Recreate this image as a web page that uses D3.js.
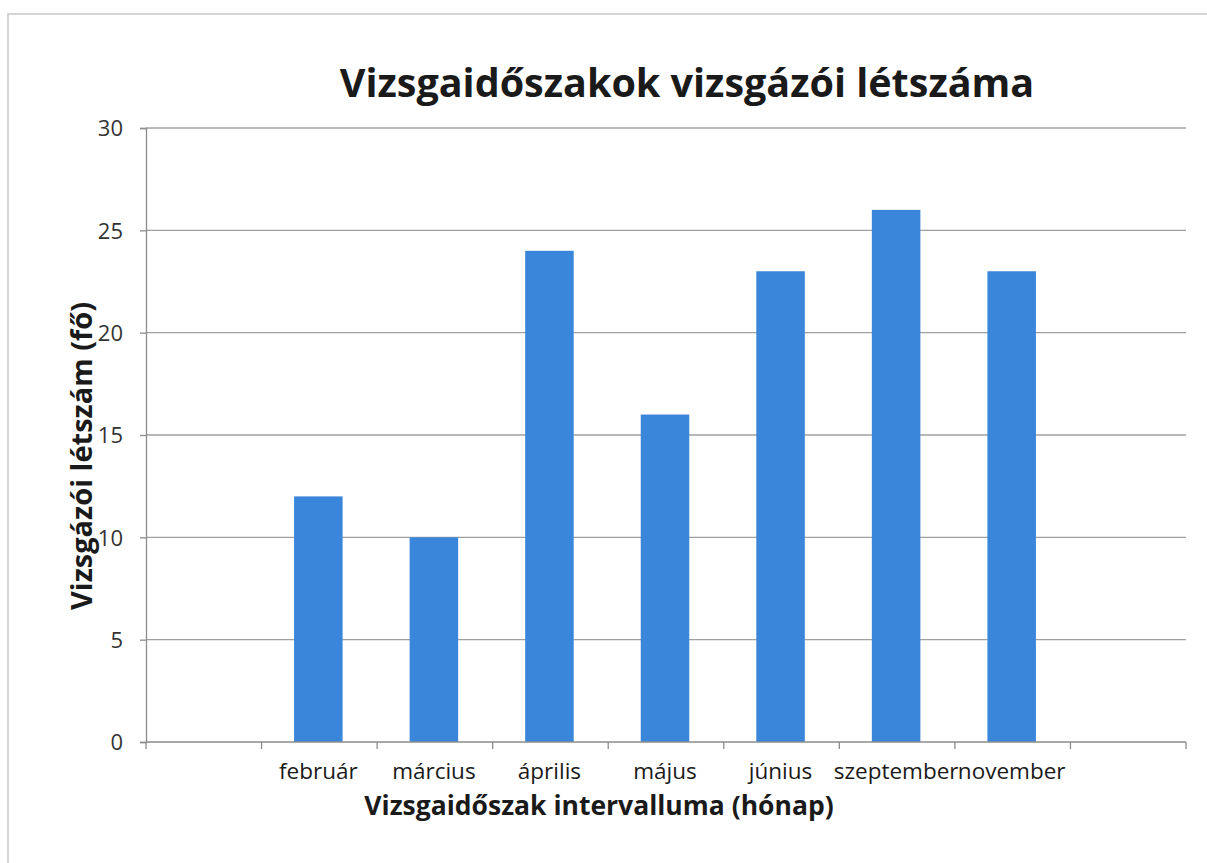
<!DOCTYPE html>
<html><head><meta charset="utf-8">
<script src="https://cdn.jsdelivr.net/npm/d3@7"></script>
<style>body{margin:0;background:#fff}svg{display:block}</style>
</head><body>
<svg id="c" width="1207" height="863"></svg>
<script>
const categories = ["", "február", "március", "április", "május", "június", "szeptember", "november", ""];
const values = [null, 12, 10, 24, 16, 23, 26, 23, null];
const yTicks = [0, 5, 10, 15, 20, 25, 30];
const title = "Vizsgaidőszakok vizsgázói létszáma";
const xTitle = "Vizsgaidőszak intervalluma (hónap)";
const yTitle = "Vizsgázói létszám (fő)";

const W = 1207, H = 863;
const m = {l:146, r:1186, t:128, b:742};
const svg = d3.select("#c");
const font = "'Open Sans', Lato, sans-serif";

// scan border
svg.append("path").attr("d", `M8,${H} L8,14 L${W},14`).attr("fill","none").attr("stroke","#c8c8c8").attr("stroke-width",1.5);

const slots = categories.map((c,i)=>i);
const x = d3.scaleBand().domain(slots).range([m.l, m.r]).paddingInner(0).paddingOuter(0);
const y = d3.scaleLinear().domain([0,30]).range([m.b, m.t]);

// gridlines
svg.append("g").selectAll("line").data(yTicks.filter(t=>t>0)).join("line")
  .attr("x1", m.l).attr("x2", m.r).attr("y1", d=>y(d)).attr("y2", d=>y(d))
  .attr("stroke", "#a0a0a0").attr("stroke-width", 1.3);

// y axis
const yAxis = svg.append("g").attr("transform", `translate(${m.l},0)`)
  .call(d3.axisLeft(y).tickValues(yTicks).tickSize(6).tickPadding(17));
yAxis.select(".domain").attr("stroke","#8c8c8c").attr("stroke-width",1.3);
yAxis.selectAll(".tick line").attr("stroke","#8c8c8c").attr("stroke-width",1.3);
yAxis.selectAll(".tick text").attr("font-family", font).attr("font-size", 22).attr("fill","#333").attr("dy","0.36em");

// bars
const bw = x.bandwidth()*0.42;
svg.append("g").selectAll("rect").data(slots.filter(i=>values[i]!=null)).join("rect")
  .attr("x", i=>x(i)+x.bandwidth()/2-bw/2 - 1)
  .attr("width", bw)
  .attr("y", i=>y(values[i]))
  .attr("height", i=>y(0)-y(values[i]))
  .attr("fill", "#3a86da");

// x axis
svg.append("line").attr("x1", m.l).attr("x2", m.r).attr("y1", y(0)).attr("y2", y(0))
  .attr("stroke","#8c8c8c").attr("stroke-width",1.3);
const bounds = slots.map(i=>x(i)).concat([m.r]);
svg.append("g").selectAll("line").data(bounds).join("line")
  .attr("x1", d=>d).attr("x2", d=>d).attr("y1", y(0)).attr("y2", y(0)+7)
  .attr("stroke","#8c8c8c").attr("stroke-width",1.3);

svg.append("g").selectAll("text").data(slots).join("text")
  .attr("x", i=>x(i)+x.bandwidth()/2 - 1)
  .attr("y", 779)
  .attr("text-anchor","middle")
  .attr("font-family", font).attr("font-size", 22.5).attr("fill","#1a1a1a")
  .text(i=>categories[i]);

// titles
svg.append("text").attr("x", 687).attr("y", 97).attr("text-anchor","middle")
  .attr("font-family", font).attr("font-weight","bold").attr("font-size", 39.5).attr("fill","#1a1a1a")
  .text(title);
svg.append("text").attr("x", 599).attr("y", 815).attr("text-anchor","middle")
  .attr("font-family", font).attr("font-weight","bold").attr("font-size", 26.5).attr("fill","#1a1a1a")
  .text(xTitle);
svg.append("text").attr("transform", "translate(92,456) rotate(-90)").attr("text-anchor","middle")
  .attr("font-family", font).attr("font-weight","bold").attr("font-size", 29).attr("fill","#1a1a1a")
  .text(yTitle);
</script>
</body></html>
